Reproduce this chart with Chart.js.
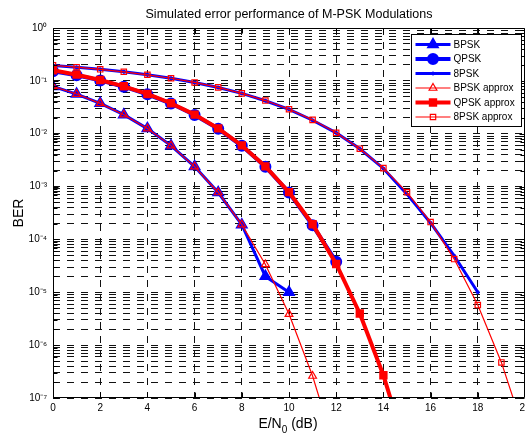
<!DOCTYPE html>
<html><head><meta charset="utf-8">
<script src="https://cdn.jsdelivr.net/npm/chart.js@4.4.1/dist/chart.umd.min.js"></script>
<style>html,body{margin:0;padding:0;background:#fff;overflow:hidden;} #wrap{position:relative;width:525px;height:434px;}</style>
</head><body><div id="wrap"><canvas id="c"></canvas></div>
<script>
const TITLE = 'Simulated error performance of M-PSK Modulations';
const X_LABEL_MAIN = 'E/N';
const X_LABEL_SUB = '0';
const X_LABEL_TAIL = ' (dB)';
const Y_LABEL = 'BER';

const EN0_DB = [0,1,2,3,4,5,6,7,8,9,10,11,12,13,14,15,16,17,18,19,20];

// simulated (blue)
const BPSK_SIM  = [0.0786,0.0563,0.0375,0.0229,0.0125,0.00595,0.00239,7.7e-4,1.9e-4,2.0e-5,1.0e-5];
const QPSK_SIM  = [0.152,0.128,0.102,0.0775,0.0555,0.0372,0.0226,0.0124,0.0059,0.00238,7.7e-4,1.85e-4,3.8e-5];
const PSK8_SIM  = [0.196,0.181,0.165,0.148,0.130,0.112,0.093,0.075,0.058,0.042,0.029,0.018,0.0104,0.0052,0.0022,7.2e-4,2.05e-4,4.9e-5,1.0e-5];

// approximations (red)
const BPSK_APPROX = [0.0786,0.0563,0.0375,0.0229,0.0125,0.00595,0.00239,7.73e-4,1.91e-4,3.36e-5,3.87e-6,2.61e-7,9.0e-9];
const QPSK_APPROX = [0.1587,0.1309,0.1040,0.0789,0.0565,0.0377,0.0230,0.0126,0.0060,0.00241,7.83e-4,1.94e-4,3.43e-5,3.97e-6,2.70e-7,9.4e-9];
const PSK8_APPROX = [0.196,0.1813,0.1652,0.1482,0.1303,0.1119,0.0934,0.0752,0.0580,0.0424,0.0290,0.0183,0.0104,0.00521,0.00223,7.80e-4,2.13e-4,4.25e-5,5.73e-6,4.71e-7,2.08e-8];

const SERIES_LABELS = ['BPSK','QPSK','8PSK','BPSK approx','QPSK approx','8PSK approx'];

const X_TICKS = [0,2,4,6,8,10,12,14,16,18,20];
const X_TICK_LABELS = ['0','2','4','6','8','10','12','14','16','18','20'];
const Y_TICKS = [1e-7,1e-6,1e-5,1e-4,1e-3,1e-2,1e-1,1];
const Y_TICK_LABELS = ['10\u207B\u2077','10\u207B\u2076','10\u207B\u2075','10\u207B\u2074','10\u207B\u00B3','10\u207B\u00B2','10\u207B\u00B9','10\u2070'];

// grid positions: decades plus 2..9 within each decade
const Y_GRID = [];
Y_TICKS.forEach((d, i) => { Y_GRID.push(d); if (i < Y_TICKS.length - 1) for (let k = 2; k <= 9; k++) Y_GRID.push(d * k); });

const FONT = '"Liberation Sans", Arial, Helvetica, sans-serif';
const BLUE = '#0000FF', RED = '#FF0000';

function pts(arr){ return arr.map((v,i)=>({x:EN0_DB[i], y:v})); }

const datasets = [
  {label:SERIES_LABELS[0], data:pts(BPSK_SIM), borderColor:BLUE, borderWidth:3, pointStyle:'triangle', pointRadius:5.5, pointBorderWidth:2, pointBackgroundColor:BLUE, pointBorderColor:BLUE, order:2},
  {label:SERIES_LABELS[1], data:pts(QPSK_SIM), borderColor:BLUE, borderWidth:4, pointStyle:'circle', pointRadius:5, pointBorderWidth:2, pointBackgroundColor:BLUE, pointBorderColor:BLUE, order:2},
  {label:SERIES_LABELS[2], data:pts(PSK8_SIM), borderColor:BLUE, borderWidth:3, pointStyle:'circle', pointRadius:1.5, pointBorderWidth:1, pointBackgroundColor:BLUE, pointBorderColor:BLUE, order:2},
  {label:SERIES_LABELS[3], data:pts(BPSK_APPROX), borderColor:RED, borderWidth:1.2, pointStyle:'triangle', pointRadius:4.5, pointBorderWidth:1.2, pointBackgroundColor:'rgba(0,0,0,0)', pointBorderColor:RED, order:1},
  {label:SERIES_LABELS[4], data:pts(QPSK_APPROX), borderColor:RED, borderWidth:4, pointStyle:'rect', pointRadius:4.5, pointBorderWidth:2, pointBackgroundColor:RED, pointBorderColor:RED, order:1},
  {label:SERIES_LABELS[5], data:pts(PSK8_APPROX), borderColor:RED, borderWidth:1.2, pointStyle:'rect', pointRadius:3.8, pointBorderWidth:1.2, pointBackgroundColor:'rgba(0,0,0,0)', pointBorderColor:RED, order:1}
];
datasets.forEach(d => { d.tension = 0; d.fill = false; d.pointHoverRadius = d.pointRadius; });

const framePlugin = {
  id: 'matlabFrame',
  afterDraw(chart) {
    const ctx = chart.ctx, a = chart.chartArea;
    const xs = chart.scales.x, ys = chart.scales.y;
    const L = Math.round(a.left)+0.5, R = Math.round(a.right)-0.5, T = Math.round(a.top)+0.5, B = Math.round(a.bottom)-0.5;
    ctx.save();
    ctx.strokeStyle = '#000'; ctx.lineWidth = 1; ctx.setLineDash([]);
    ctx.beginPath();
    ctx.rect(L, T, R-L, B-T);
    X_TICKS.forEach(v => {
      const p = Math.round(xs.getPixelForValue(v)) + 0.5;
      ctx.moveTo(p, B); ctx.lineTo(p, B-5);
      ctx.moveTo(p, T); ctx.lineTo(p, T+5);
    });
    Y_GRID.forEach(v => {
      const p = Math.round(ys.getPixelForValue(v)) + 0.5;
      const len = Y_TICKS.includes(v) ? 5 : 4;
      ctx.moveTo(L, p); ctx.lineTo(L+len, p);
      ctx.moveTo(R, p); ctx.lineTo(R-len, p);
    });
    ctx.stroke();

    // x-axis label with subscript
    ctx.fillStyle = '#000';
    ctx.textBaseline = 'alphabetic';
    ctx.textAlign = 'left';
    const mainFont = '14px ' + FONT, subFont = '10px ' + FONT;
    ctx.font = mainFont; const w1 = ctx.measureText(X_LABEL_MAIN).width, w3 = ctx.measureText(X_LABEL_TAIL).width;
    ctx.font = subFont; const w2 = ctx.measureText(X_LABEL_SUB).width;
    const total = w1 + w2 + w3;
    let tx = (a.left + a.right) / 2 - total / 2 - 1;
    const base = 428;
    ctx.font = mainFont; ctx.fillText(X_LABEL_MAIN, tx, base); tx += w1;
    ctx.font = subFont; ctx.fillText(X_LABEL_SUB, tx, base + 5); tx += w2;
    ctx.font = mainFont; ctx.fillText(X_LABEL_TAIL, tx, base);

    // legend
    const w = 110, h = 92;
    const lx = Math.round(a.right - 4 - w) + 0.5, ly = Math.round(a.top + 6) + 0.5;
    ctx.fillStyle = '#fff';
    ctx.fillRect(lx, ly, w, h);
    ctx.strokeStyle = '#000'; ctx.lineWidth = 1;
    ctx.strokeRect(lx, ly, w, h);
    ctx.font = '10px ' + FONT;
    ctx.textBaseline = 'middle';
    ctx.textAlign = 'left';
    chart.data.datasets.forEach((d, i) => {
      const y = ly + 10 + i * 14.5;
      ctx.strokeStyle = d.borderColor; ctx.lineWidth = d.borderWidth;
      ctx.beginPath(); ctx.moveTo(lx + 4, y); ctx.lineTo(lx + 39, y); ctx.stroke();
      ctx.fillStyle = d.pointBackgroundColor; ctx.strokeStyle = d.pointBorderColor; ctx.lineWidth = d.pointBorderWidth;
      Chart.helpers.drawPoint(ctx, {pointStyle: d.pointStyle, radius: d.pointRadius, borderWidth: d.pointBorderWidth, rotation: 0}, lx + 21.5, y);
      ctx.fillStyle = '#000';
      ctx.fillText(d.label, lx + 42, y + 0.5);
    });
    ctx.restore();
  }
};

new Chart(document.getElementById('c'), {
  type: 'line',
  data: { datasets },
  options: {
    responsive: true, maintainAspectRatio: false, animation: false, devicePixelRatio: 1,
    layout: { autoPadding: false, padding: { left: 0, right: -2, top: 0, bottom: 0 } },
    plugins: {
      legend: { display: false },
      tooltip: { enabled: false },
      title: { display: true, text: TITLE, fullSize: false, color: '#000',
               font: { family: FONT, size: 12.5, weight: 'normal' }, padding: { top: 7, bottom: 6 } }
    },
    scales: {
      x: {
        type: 'linear', min: 0, max: 20,
        afterBuildTicks: s => { s.ticks = X_TICKS.map(v => ({value: v})); },
        afterFit: s => { s.height = 36; s.paddingRight = 0; s.paddingLeft = 0; },
        ticks: { autoSkip: false, maxRotation: 0, padding: 4, color: '#000', font: { family: FONT, size: 10 },
                 callback: (v) => { const i = X_TICKS.indexOf(v); return i >= 0 ? X_TICK_LABELS[i] : ''; } },
        grid: { color: '#111', lineWidth: 1, drawTicks: false },
        border: { display: false, dash: [7, 7] },
        title: { display: false }
      },
      y: {
        type: 'logarithmic', min: 1e-7, max: 1,
        afterBuildTicks: s => { s.ticks = Y_GRID.map(v => ({value: v})); },
        afterFit: s => { s.width = 53; s.paddingTop = 0; s.paddingBottom = 0; },
        ticks: { autoSkip: false, padding: 6, color: '#000', font: { family: FONT, size: 10 },
                 callback: (v) => { const i = Y_TICKS.findIndex(t => Math.abs(Math.log10(t) - Math.log10(v)) < 1e-6); return i >= 0 ? Y_TICK_LABELS[i] : ''; } },
        grid: { color: '#111', lineWidth: 1, drawTicks: false },
        border: { display: false, dash: [7, 7] },
        title: { display: true, text: Y_LABEL, color: '#000', font: { family: FONT, size: 14 }, padding: { top: 11, bottom: 0 } }
      }
    }
  },
  plugins: [framePlugin]
});
</script></body></html>
